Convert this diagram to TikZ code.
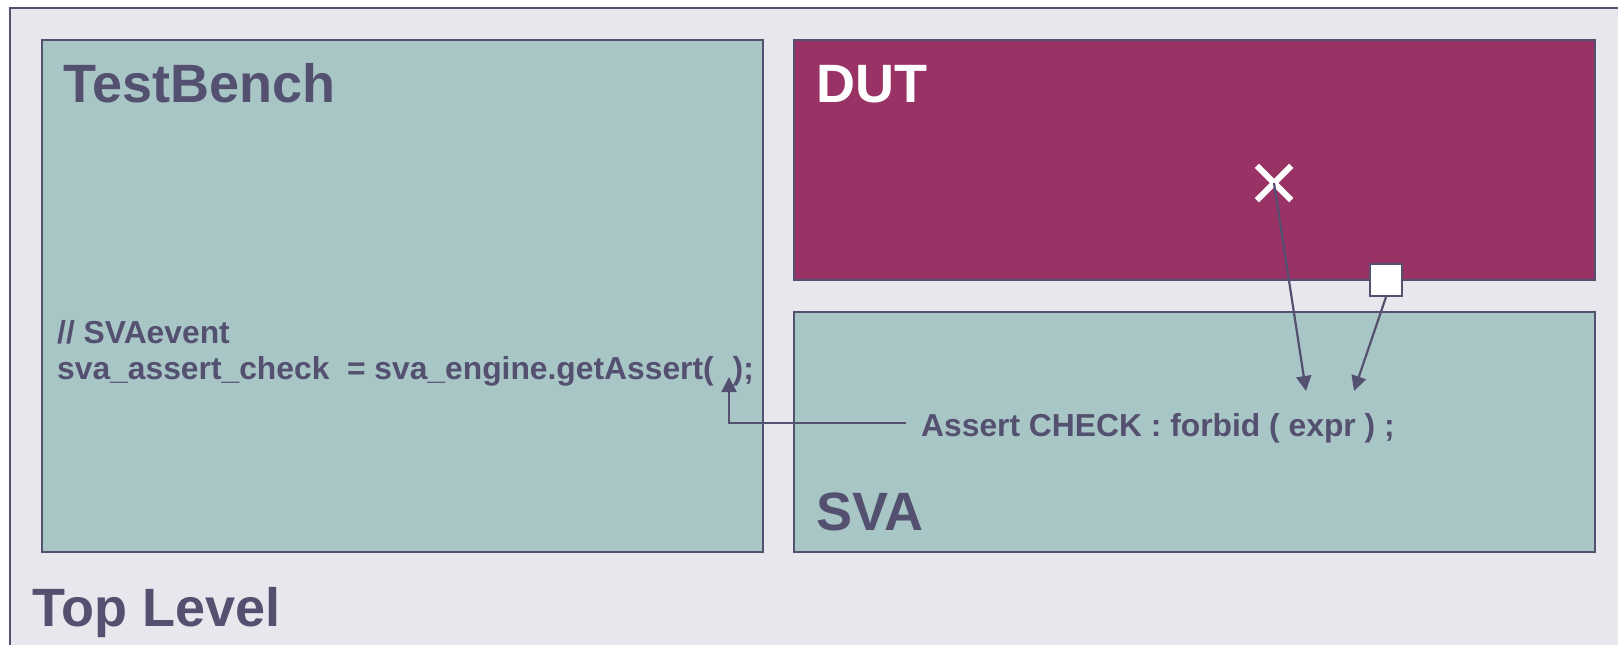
\documentclass[tikz,border=0pt]{standalone}
\usepackage{fontspec}
\setmainfont{Liberation Sans}
\usetikzlibrary{arrows.meta}
\definecolor{ink}{RGB}{84,80,112}
\definecolor{lavender}{RGB}{232,231,238}
\definecolor{teal}{RGB}{169,198,199}
\definecolor{dutred}{RGB}{153,51,102}
\tikzset{
  block/.style={draw=ink, line width=2pt, inner sep=0pt, anchor=north west},
  title/.style={inner sep=0pt, anchor=base west, font=\fontsize{54}{60}\selectfont\bfseries},
  code/.style={inner sep=0pt, anchor=base west, text=ink, font=\fontsize{31.8}{36}\selectfont\bfseries},
  link/.style={draw=ink, line width=2.2pt, -{Triangle[length=15pt,width=15pt]}},
}
\begin{document}
\begin{tikzpicture}[x=1pt, y=-1pt]
\useasboundingbox (0,0) rectangle (1618,645);
\fill[white] (0,0) rectangle (1618,645);
% top-level frame, running off the right and bottom edges
\begin{scope}
\clip (0,0) rectangle (1618,645);
\draw[fill=lavender, draw=ink, line width=2pt] (10,8) rectangle (1650,680);
\end{scope}

% blocks
\node[block, fill=teal, minimum width=721pt, minimum height=512pt] (tb) at (41,39) {};
\node[block, fill=dutred, minimum width=801pt, minimum height=240pt] (dut) at (793,39) {};
\node[block, fill=teal, minimum width=801pt, minimum height=240pt] (sva) at (793,311) {};

% titles
\node[title, text=ink] (tbtitle) at (63,102) {TestBench};
\node[title, text=white] (duttitle) at (816,102) {DUT};
\node[title, text=ink] (svatitle) at (816,530) {SVA};
\node[title, text=ink] (toptitle) at (32,626) {Top Level};

% testbench code
\node[code] (cmt) at (57,343) {// SVAevent};
\node[code] (call) at (57,379) {sva\_assert\_check\hspace{17.6pt}= sva\_engine.getAssert(\hspace{19pt});};
\coordinate (slot) at (729,377);

% assertion in the SVA block
\node[code] (assert) at (921,436) {Assert CHECK : forbid ( expr ) ;};

% signal cross and port in the DUT
\node[inner sep=0pt, minimum size=34pt] (xmark) at (1274,183) {};
\draw[white, line width=6pt] (xmark.north west) -- (xmark.south east)
                             (xmark.north east) -- (xmark.south west);
\node[draw=ink, fill=white, line width=2pt, minimum size=32pt, inner sep=0pt] (port) at (1386,280) {};

\coordinate (tipA) at (1306,391);
\coordinate (tipB) at (1354,391);

% connectors
\draw[link] (xmark.center) -- (tipA);
\draw[link] (port.south) -- (tipB);
\draw[link] ([xshift=-15pt,yshift=13pt]assert.base west) -| (slot);
\end{tikzpicture}
\end{document}
